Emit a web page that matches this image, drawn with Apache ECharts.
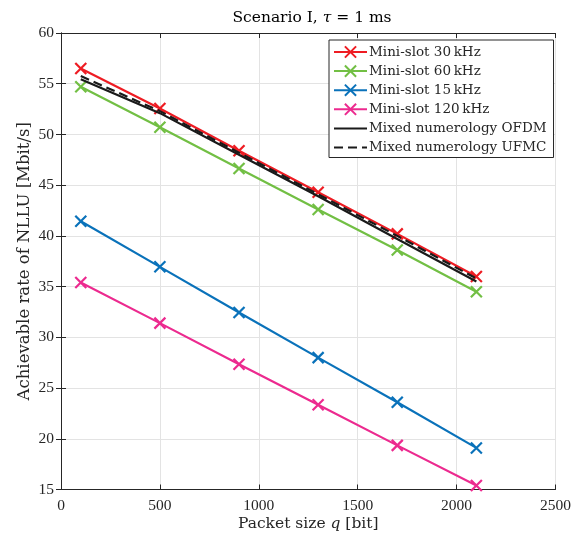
<!DOCTYPE html>
<html>
<head>
<meta charset="utf-8">
<script src="https://cdn.jsdelivr.net/npm/echarts@6/dist/echarts.min.js"></script>
<style>html,body{margin:0;padding:0;background:#fff;}#c{width:574px;height:543px;}</style>
</head>
<body>
<div id="c"></div>
<script>
var packetSizes = [100, 500, 900, 1300, 1700, 2100];
var mini30 = [56.5, 52.55, 48.4, 44.3, 40.2, 36.0];
var mini60 = [54.7, 50.7, 46.65, 42.6, 38.6, 34.5];
var mini15 = [41.45, 36.95, 32.45, 28.0, 23.6, 19.1];
var mini120 = [35.4, 31.4, 27.35, 23.35, 19.35, 15.4];
var mixedOFDM = [55.45, 52.1, 48.0, 43.9, 39.7, 35.5];
var mixedUFMC = [55.75, 52.3, 48.2, 44.1, 40.0, 35.8];
var seriesNames = ['Mini-slot 30\u2009kHz', 'Mini-slot 60\u2009kHz', 'Mini-slot 15\u2009kHz', 'Mini-slot 120\u2009kHz', 'Mixed numerology OFDM', 'Mixed numerology UFMC'];
var xTicks = [0, 500, 1000, 1500, 2000, 2500];
var yTicks = [15, 20, 25, 30, 35, 40, 45, 50, 55, 60];

var FONT = '"DejaVu Serif", "Liberation Serif", serif';
var TFONT = '"Liberation Serif", "DejaVu Serif", serif';
var TXT = '#262626';
function pairs(ys) { return packetSizes.map(function (x, i) { return [x, ys[i]]; }); }
var cross = 'path://M0,0L10,10M10,0L0,10';
function markerSeries(name, ys, color) {
  return {
    name: name, type: 'line', data: pairs(ys), symbol: cross, symbolSize: 11,
    lineStyle: { color: color, width: 2.2 },
    itemStyle: { color: color, borderColor: color, borderWidth: 2.2 },
    emphasis: { disabled: true }, z: 3
  };
}
var chart = echarts.init(document.getElementById('c'), null, { renderer: 'canvas' });
var axisCommon = {
  axisLine: { show: true, lineStyle: { color: '#262626', width: 1 } },
  axisTick: { show: true, inside: true, length: 5, lineStyle: { color: '#262626' } }
};
chart.setOption({
  animation: false,
  backgroundColor: '#fff',
  title: {
    text: '{n|Scenario I, }{i|\u03c4}{n| = 1 ms}',
    left: 307, top: 5, textAlign: 'center',
    textStyle: { rich: {
      n: { fontFamily: FONT, fontSize: 15.5, fontWeight: 'normal', color: '#000' },
      i: { fontFamily: FONT, fontSize: 15.5, fontWeight: 'normal', fontStyle: 'italic', color: '#000' }
    } }
  },
  grid: { left: 61, right: 17, top: 33, bottom: 53.5, containLabel: false },
  legend: {
    orient: 'vertical', left: 329, top: 40,
    padding: [5, 7, 3, 4], itemGap: 5.1, itemWidth: 33, itemHeight: 14,
    borderColor: '#262626', borderWidth: 1, backgroundColor: '#fff',
    textStyle: { fontFamily: FONT, fontSize: 13.5, color: TXT, padding: [0, 0, 0, -3] },
    data: seriesNames.map(function (n, i) {
      return i < 4 ? { name: n } : { name: n, itemStyle: { opacity: 0 } };
    })
  },
  xAxis: [
    Object.assign({
      type: 'value', min: xTicks[0], max: xTicks[xTicks.length - 1], interval: 500,
      name: '{n|Packet size }{i|q}{n| [bit]}', nameLocation: 'middle', nameGap: 26,
      nameMoveOverlap: false,
      nameTextStyle: { rich: {
        n: { fontFamily: FONT, fontSize: 15.5, color: TXT },
        i: { fontFamily: FONT, fontSize: 15.5, fontStyle: 'italic', color: TXT }
      } },
      axisLabel: { fontFamily: TFONT, fontSize: 15.5, color: TXT, margin: 8, formatter: function (v) { return String(v); } },
      splitLine: { show: true, lineStyle: { color: '#e3e3e3', width: 1 } }
    }, axisCommon),
    Object.assign({
      type: 'value', position: 'top', min: xTicks[0], max: xTicks[xTicks.length - 1], interval: 500,
      axisLabel: { show: false }, splitLine: { show: false }
    }, axisCommon)
  ],
  yAxis: [
    Object.assign({
      type: 'value', min: yTicks[0], max: yTicks[yTicks.length - 1], interval: 5,
      name: 'Achievable rate of NLLU [Mbit/s]', nameLocation: 'middle', nameGap: 28,
      nameMoveOverlap: false,
      nameTextStyle: { fontFamily: FONT, fontSize: 16.5, color: TXT },
      axisLabel: { fontFamily: TFONT, fontSize: 15.5, color: TXT, margin: 7 },
      splitLine: { show: true, lineStyle: { color: '#e3e3e3', width: 1 } }
    }, axisCommon),
    Object.assign({
      type: 'value', position: 'right', min: yTicks[0], max: yTicks[yTicks.length - 1], interval: 5,
      axisLabel: { show: false }, splitLine: { show: false }
    }, axisCommon)
  ],
  series: [
    markerSeries(seriesNames[0], mini30, '#ee1c23'),
    markerSeries(seriesNames[1], mini60, '#72bf44'),
    markerSeries(seriesNames[2], mini15, '#0a72ba'),
    markerSeries(seriesNames[3], mini120, '#ec2a8f'),
    { name: seriesNames[4], type: 'line', data: pairs(mixedOFDM), symbol: 'none',
      lineStyle: { color: '#1a1a1a', width: 2.2 }, itemStyle: { color: '#1a1a1a' }, z: 4 },
    { name: seriesNames[5], type: 'line', data: pairs(mixedUFMC), symbol: 'none',
      lineStyle: { color: '#1a1a1a', width: 2.2, type: [9, 5] }, itemStyle: { color: '#1a1a1a' }, z: 4 }
  ]
});
</script>
</body>
</html>
